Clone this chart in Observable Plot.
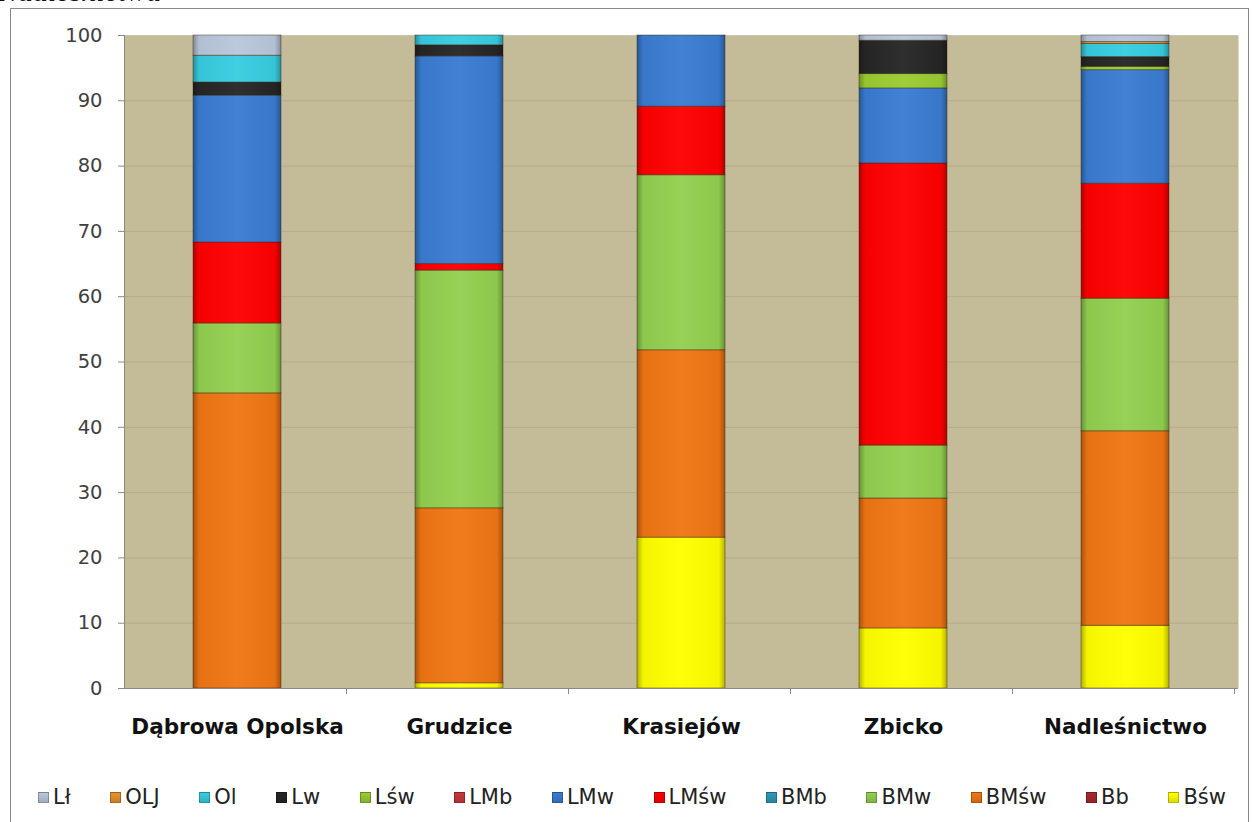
<!DOCTYPE html>
<html>
<head>
<meta charset="utf-8">
<script src="https://cdn.jsdelivr.net/npm/d3@7"></script>
<script src="https://cdn.jsdelivr.net/npm/@observablehq/plot@0.6"></script>
<style>
  html, body { margin: 0; padding: 0; background: #fff; overflow: hidden; }
  #wrap { position: relative; width: 1253px; height: 822px; overflow: hidden; }
  #title { position: absolute; left: -2px; top: -24px; font: italic 30px "Liberation Serif", serif; line-height: 30px; color: #111; white-space: nowrap; }
  #border { position: absolute; left: 10px; top: 8px; width: 1239px; height: 900px; border: 1px solid #8a8a8a; box-sizing: border-box; }
  #chart { position: absolute; left: 0; top: 0; }
  #legend { position: absolute; left: 38px; width: 1188px; top: 785px; display: flex; justify-content: space-between; font: 21px "DejaVu Sans", sans-serif; color: #222; }
  .item { display: flex; align-items: center; gap: 4px; }
  .sw { width: 11px; height: 11px; box-sizing: border-box; border: 1px solid rgba(0,0,0,0.25); }
</style>
</head>
<body>
<div id="wrap">
  <div id="title">Nadleśnictwa</div>
  <div id="border"></div>
  <div id="chart"></div>
  <div id="legend"></div>
</div>
<script>
// Categories and series (series listed bottom-to-top of the stack)
const categories = ["Dąbrowa Opolska", "Grudzice", "Krasiejów", "Zbicko", "Nadleśnictwo"];
const series = ["Bśw", "Bb", "BMśw", "BMw", "BMb", "LMśw", "LMw", "LMb", "Lśw", "Lw", "Ol", "OLJ", "Lł"];
const seriesColors = ["#FFFF00", "#A8282C", "#F07614", "#92D050", "#2E9AB8", "#FF0000", "#3A7CD2", "#C8383C", "#9ACD32", "#262626", "#38CCE0", "#E8922C", "#B9C7DB"];

// Percent values per series, one per category
const Bsw  = [0,    0.8,  23.1, 9.2,  9.6];
const Bb   = [0,    0,    0,    0,    0];
const BMsw = [45.2, 26.8, 28.7, 19.9, 29.8];
const BMw  = [10.7, 36.4, 26.8, 8.1,  20.3];
const BMb  = [0,    0,    0,    0,    0];
const LMsw = [12.4, 1.0,  10.5, 43.2, 17.6];
const LMw  = [22.5, 31.8, 10.9, 11.5, 17.4];
const LMb  = [0,    0,    0,    0,    0];
const Lsw  = [0,    0,    0,    2.2,  0.5];
const Lw   = [2.0,  1.7,  0,    5.1,  1.5];
const Ol   = [4.1,  1.5,  0,    0,    2.0];
const OLJ  = [0,    0,    0,    0,    0.3];
const Ll   = [3.1,  0,    0,    0.8,  1.0];
const seriesValues = [Bsw, Bb, BMsw, BMw, BMb, LMsw, LMw, LMb, Lsw, Lw, Ol, OLJ, Ll];

const yTicks = [0, 10, 20, 30, 40, 50, 60, 70, 80, 90, 100];

const rows = [];
series.forEach((s, si) => {
  categories.forEach((c, ci) => {
    const v = seriesValues[si][ci];
    if (v > 0) rows.push({cat: c, series: s, value: v});
  });
});

const FONT = "'DejaVu Sans', sans-serif";
const inset = 67;

const plot = Plot.plot({
  width: 1253,
  height: 750,
  marginLeft: 124,
  marginRight: 15,
  marginTop: 35,
  marginBottom: 62,
  x: {domain: categories, padding: 0, label: null, axis: null},
  y: {domain: [0, 100], label: null, axis: null},
  color: {domain: series, range: seriesColors},
  style: {fontFamily: FONT, background: "transparent", overflow: "visible"},
  marks: [
    Plot.frame({fill: "#C4BC98", stroke: "none"}),
    Plot.gridY(yTicks, {stroke: "#8f8766", strokeOpacity: 0.3}),
    Plot.barY(rows, Plot.stackY({x: "cat", y: "value", z: "series", fill: "series", order: series, insetLeft: inset, insetRight: inset, stroke: "rgba(60,40,20,0.45)", strokeWidth: 1})),
    Plot.barY(rows, Plot.stackY({x: "cat", y: "value", z: "series", order: series, insetLeft: inset, insetRight: inset, fill: "url(#bevel)"})),
    Plot.axisY(yTicks, {tickSize: 6, tickPadding: 16, fontSize: 19.5, fill: "#404040", stroke: "#8a8a8a"}),
    Plot.axisX({tickSize: 0, tickPadding: 30, fontSize: 21.5, fontWeight: "bold", fill: "#111"})
  ]
});

document.getElementById("chart").appendChild(plot);

// bevel gradient
const svg = d3.select(plot);
const defs = svg.insert("defs", ":first-child");
const g = defs.append("linearGradient").attr("id", "bevel").attr("x1", 0).attr("x2", 1).attr("y1", 0).attr("y2", 0);
[[0, "#000", 0.3], [0.07, "#000", 0.04], [0.5, "#fff", 0.04], [0.93, "#000", 0.04], [1, "#000", 0.3]].forEach(([o, c, a]) =>
  g.append("stop").attr("offset", o).attr("stop-color", c).attr("stop-opacity", a));

// axis lines and category separator ticks
const xs = plot.scale("x");
const ys = plot.scale("y");
const y0 = ys.apply(0), y100 = ys.apply(100);
const x0 = xs.range[0], step = xs.step;
const axes = svg.append("g").attr("stroke", "#8a8a8a").attr("stroke-width", 1);
axes.append("line").attr("x1", x0 + 0.5).attr("x2", x0 + 0.5).attr("y1", y100).attr("y2", y0);
axes.append("line").attr("x1", x0).attr("x2", xs.range[1]).attr("y1", y0 + 0.5).attr("y2", y0 + 0.5);
categories.forEach((c, i) => {
  const x = Math.round(x0 + (i + 1) * step) + 0.5;
  axes.append("line").attr("x1", x).attr("x2", x).attr("y1", y0).attr("y2", y0 + 6);
});

// legend (reverse stack order)
const legend = d3.select("#legend");
series.slice().reverse().forEach(s => {
  const col = seriesColors[series.indexOf(s)];
  const it = legend.append("div").attr("class", "item");
  it.append("div").attr("class", "sw").style("background", `linear-gradient(${col}, ${d3.color(col).darker(0.4)})`);
  it.append("span").text(s);
});
</script>
</body>
</html>
